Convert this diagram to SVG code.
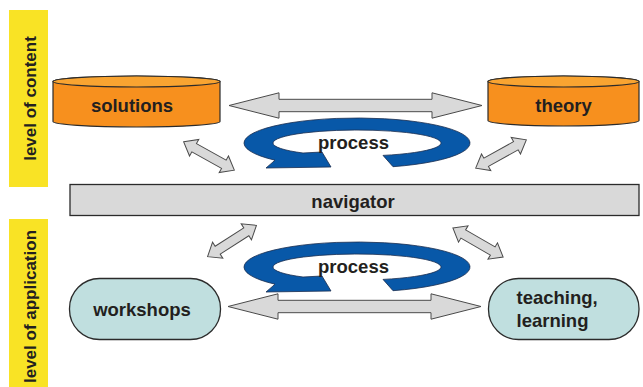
<svg xmlns="http://www.w3.org/2000/svg" width="643" height="387" viewBox="0 0 643 387">
<style>
text{font-family:"Liberation Sans",Arial,sans-serif;font-weight:bold;fill:#231F20}
.lbl{font-size:18.5px}
.lvl{font-size:17px}
.bar{fill:#F9E325}
.cyl{fill:#F7901E;stroke:#2b2b2b;stroke-width:1.2}
.cyltop{fill:#F9A431;stroke:#2b2b2b;stroke-width:1.2}
.pill{fill:#C0DFDF;stroke:#2b2b2b;stroke-width:1.3}
.arr{fill:#D9D9D9;stroke:#4a4a4a;stroke-width:1}
.swirl{fill:#0858A8;stroke:#1b2d4f;stroke-width:0.8}
.nav{fill:#D9D9D9;stroke:#2b2b2b;stroke-width:1.3}
</style>
<defs>
<path id="swirl" d="M393,166.7 A113,25 0 1 0 275,160.2 L266,168 L331,167 L322,152 L303,153 A84,13 0 1 1 383,155.4 Z"/>
<polygon id="dbl" points="-29,0 -17,-9.5 -17,-4.7 17,-4.7 17,-9.5 29,0 17,9.5 17,4.7 -17,4.7 -17,9.5"/>
<polygon id="big" points="229,105.5 279,92.8 279,99.3 432,99.3 432,92.8 482,105.5 432,118.2 432,111.7 279,111.7 279,118.2"/>
</defs>
<g id="level-content">
<rect class="bar" x="9" y="10" width="39" height="177"/>
<text class="lvl" transform="translate(35.5,98.5) rotate(-90)" text-anchor="middle">level of content</text>
</g>
<g id="level-application">
<rect class="bar" x="9" y="219" width="39" height="168"/>
<text class="lvl" transform="translate(35.5,306.5) rotate(-90)" text-anchor="middle">level of application</text>
</g>
<g id="solutions">
<path class="cyl" d="M53,81.5 V121.5 A83.5,5.5 0 0 0 220,121.5 V81.5 A83.5,5.5 0 0 0 53,81.5 Z"/>
<ellipse class="cyltop" cx="136.5" cy="81.5" rx="83.5" ry="5.5"/>
<text class="lbl" x="132" y="112" text-anchor="middle">solutions</text>
</g>
<g id="theory">
<path class="cyl" d="M488,81.5 V120.5 A75.5,5.5 0 0 0 639,120.5 V81.5 A75.5,5.5 0 0 0 488,81.5 Z"/>
<ellipse class="cyltop" cx="563.5" cy="81.5" rx="75.5" ry="5.5"/>
<text class="lbl" x="563.5" y="112" text-anchor="middle">theory</text>
</g>
<g id="process-top">
<use href="#swirl" class="swirl"/>
<text class="lbl" x="353.5" y="149" text-anchor="middle">process</text>
</g>
<g id="navigator">
<rect class="nav" x="70" y="184.5" width="569" height="31"/>
<text class="lbl" x="353" y="208.3" text-anchor="middle">navigator</text>
</g>
<g id="process-bottom">
<use href="#swirl" class="swirl" transform="translate(0,124)"/>
<text class="lbl" x="353.5" y="273" text-anchor="middle">process</text>
</g>
<g id="workshops">
<rect class="pill" x="69.5" y="278.5" width="151" height="61" rx="30" ry="30"/>
<text class="lbl" x="142" y="316" text-anchor="middle">workshops</text>
</g>
<g id="teaching-learning">
<rect class="pill" x="488.5" y="278.5" width="150.5" height="61" rx="30" ry="30"/>
<text class="lbl" x="516.5" y="304">teaching,</text>
<text class="lbl" x="516.5" y="327">learning</text>
</g>
<g id="connectors">
<use href="#big" class="arr"/>
<use href="#big" class="arr" transform="translate(-1,201)"/>
<use href="#dbl" class="arr" transform="translate(209,156) rotate(29.2)"/>
<use href="#dbl" class="arr" transform="translate(501,154) rotate(-29.2)"/>
<use href="#dbl" class="arr" transform="translate(232,241) rotate(-32.6)"/>
<use href="#dbl" class="arr" transform="translate(478,242.5) rotate(30)"/>
</g>
</svg>
